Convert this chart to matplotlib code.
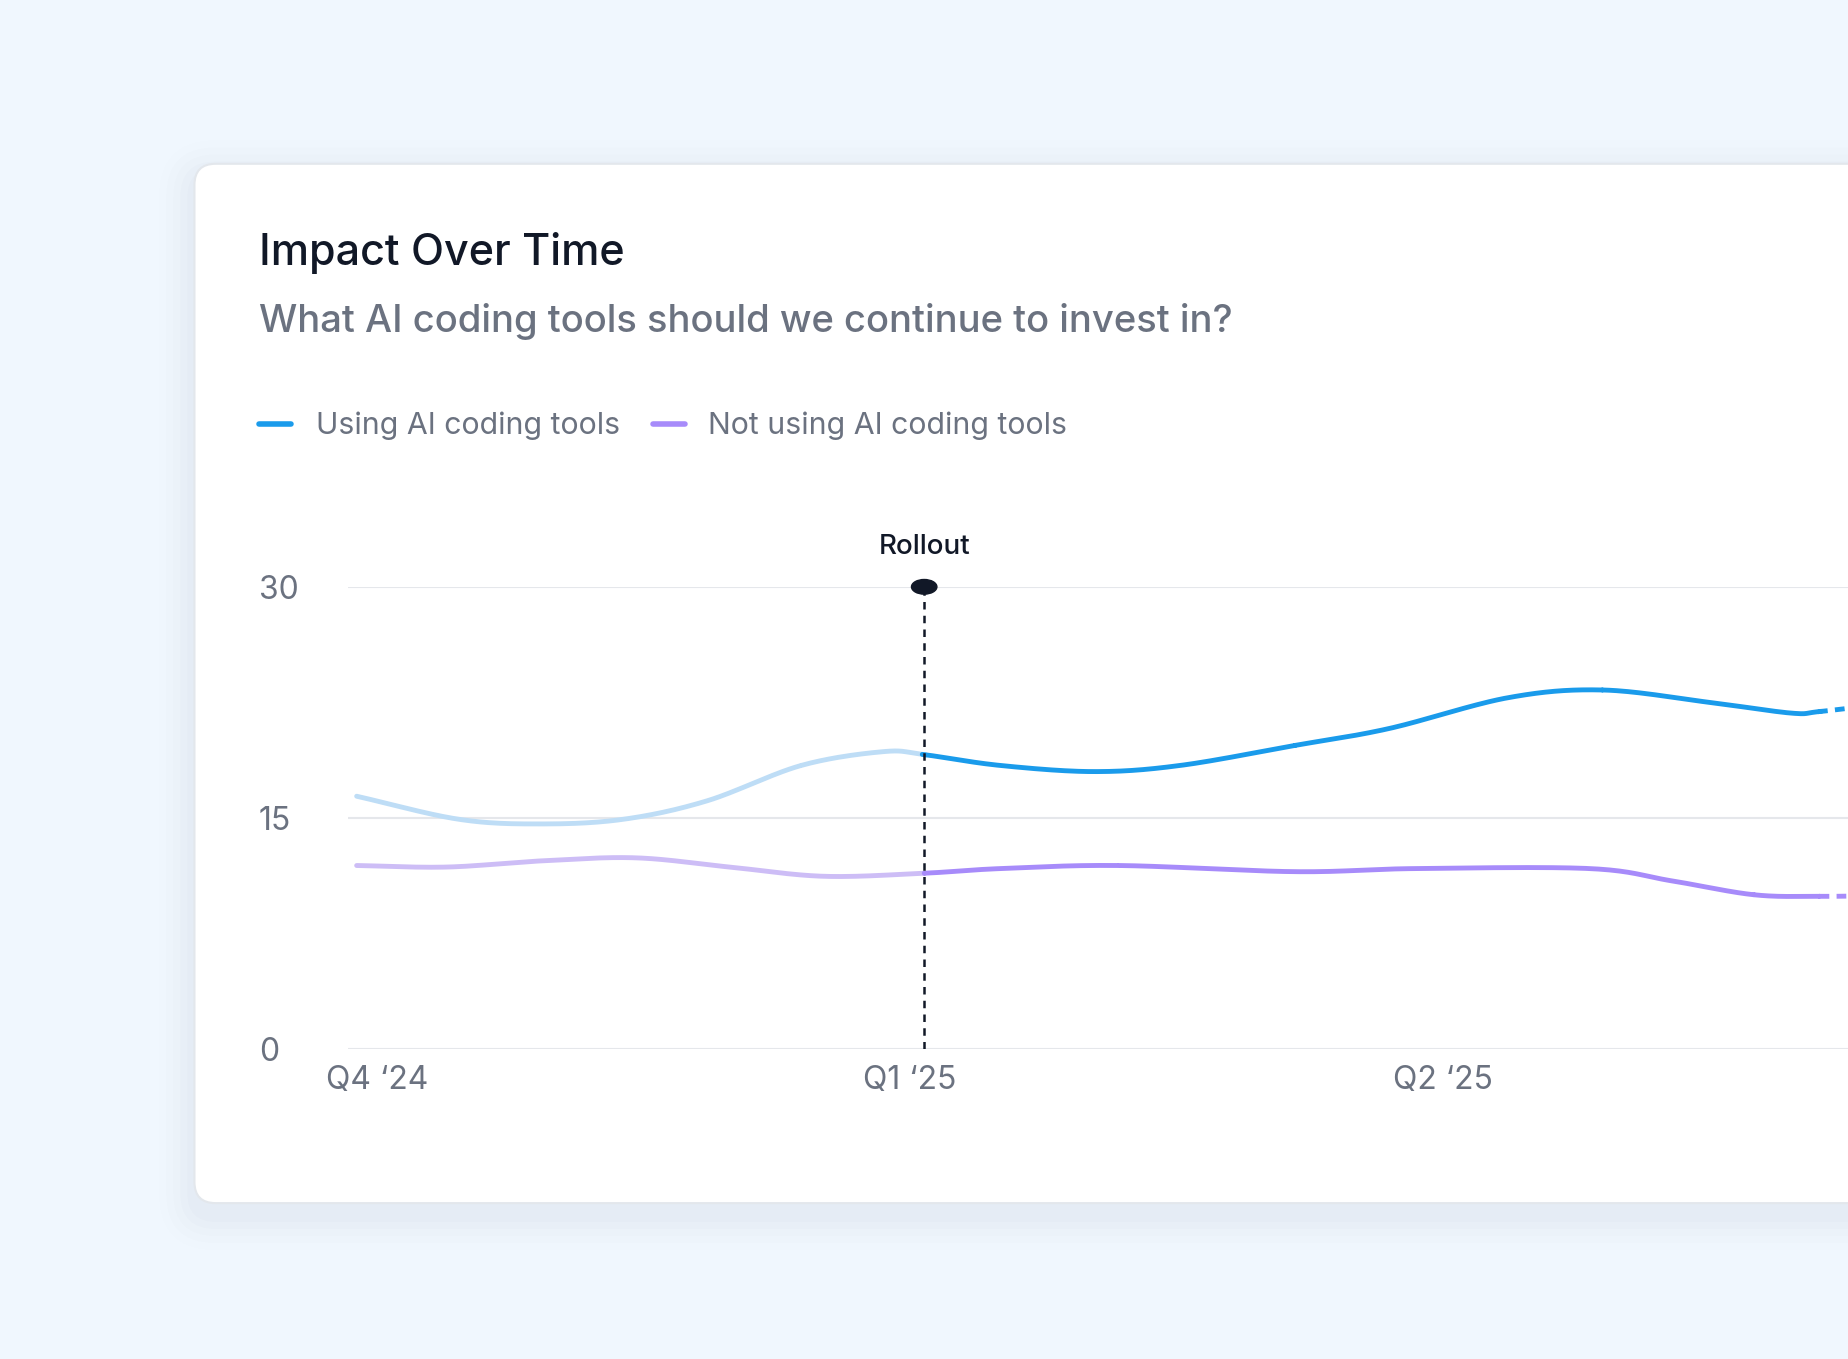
import numpy as np
import matplotlib
matplotlib.use("Agg")
import matplotlib.pyplot as plt
from matplotlib.patches import FancyBboxPatch, Ellipse

# ---- data ----
quarter_labels = ["Q4 \u201824", "Q1 \u201825", "Q2 \u201825"]
quarter_weeks = [0, 13, 26]
rollout_week = 13.35
rollout_value = 30
series_names = ["Using AI coding tools", "Not using AI coding tools"]
using_weeks = [-0.5, 2.0, 4.0, 6.0, 8.05, 10.35, 12.37, 13.35, 15.2, 17.5, 19.6, 22.4, 24.7, 27.6, 29.9, 32.5, 34.5, 35.2, 36.8]
using_vals = [16.4, 14.9, 14.6, 14.9, 16.1, 18.4, 19.3, 19.1, 18.4, 18.0, 18.4, 19.7, 20.8, 22.8, 23.3, 22.5, 21.8, 21.9, 22.4]
notusing_weeks = [-0.5, 1.7, 4.0, 6.3, 8.6, 10.9, 13.35, 15.2, 18.1, 22.4, 25.3, 29.6, 31.6, 33.6, 35.2, 36.8]
notusing_vals = [11.9, 11.8, 12.2, 12.4, 11.8, 11.2, 11.4, 11.7, 11.9, 11.5, 11.7, 11.7, 10.9, 10.0, 9.9, 9.95]
y_ticks = [0, 15, 30]
forecast_start = 35.2

W, H = 1568, 1153.3
fig = plt.figure(figsize=(18.48, 13.59), dpi=100)
fig.patch.set_facecolor("#F0F7FE")
bg = fig.add_axes([0, 0, 1, 1])
bg.set_xlim(0, W); bg.set_ylim(H, 0); bg.axis("off")
bg.set_facecolor("none")
for i, a in enumerate([0.012, 0.01, 0.008, 0.006, 0.004]):
    g = 6 + i * 6
    bg.add_patch(FancyBboxPatch((165 - g, 139 - g + 10), 1600, 882 + 2 * g,
                                boxstyle="round,pad=0,rounding_size=%d" % (18 + g),
                                fc="#1e3a5f", ec="none", alpha=a))
bg.add_patch(FancyBboxPatch((165, 139), 1600, 882, boxstyle="round,pad=0,rounding_size=18",
                            fc="white", ec="#E3E7EC", lw=1.5))
bg.text(220, 215, "Impact Over Time", fontsize=31, color="#111827", va="center",
        family="Inter", fontweight="medium")
bg.text(220, 273, "What AI coding tools should we continue to invest in?", fontsize=27.5,
        color="#6B7280", va="center", family="Inter", fontweight="medium")
cols = ["#1A9BEB", "#A78BFA"]
light = ["#BEDDF6", "#CDBDF6"]
for (x0, xt), name, c in zip([(220, 268), (554, 601)], series_names, cols):
    bg.plot([x0, x0 + 27], [360, 360], color=c, lw=4, solid_capstyle="round")
    bg.text(xt, 361, name, fontsize=21.8, color="#6B7280", va="center", family="Inter")

ax = fig.add_axes([295 / W, 1 - 890 / H, (W - 295) / W, (890 - 498) / H])
ax.set_facecolor("none")
px_per_week = 452 / 13
ax.set_xlim((295 - 320) / px_per_week, (W - 320) / px_per_week)
ax.set_ylim(0, 30)
for s in ax.spines.values():
    s.set_visible(False)
for v in y_ticks:
    ax.axhline(v, color="#E5E7EB", lw=1.5, zorder=0)
ax.set_yticks(y_ticks)
ax.set_yticklabels([str(v) for v in y_ticks], ha="left", fontsize=23, color="#6B7280", family="Inter")
ax.tick_params(axis="y", length=0, pad=64)
ax.set_xticks(quarter_weeks)
ax.set_xticklabels(quarter_labels, fontsize=23, color="#6B7280", family="Inter")
ax.tick_params(axis="x", length=0, pad=12)

def smooth(xs, ys, n=30):
    xs = np.asarray(xs, float); ys = np.asarray(ys, float)
    P = np.column_stack([xs, ys])
    P = np.vstack([2 * P[0] - P[1], P, 2 * P[-1] - P[-2]])
    out = []
    for i in range(1, len(P) - 2):
        p0, p1, p2, p3 = P[i - 1], P[i], P[i + 1], P[i + 2]
        t = np.linspace(0, 1, n)[:, None]
        seg = 0.5 * ((2 * p1) + (-p0 + p2) * t + (2 * p0 - 5 * p1 + 4 * p2 - p3) * t ** 2
                     + (-p0 + 3 * p1 - 3 * p2 + p3) * t ** 3)
        out.append(seg)
    S = np.vstack(out)
    return S[:, 0], S[:, 1]

for xs, ys, c, lc in [(using_weeks, using_vals, cols[0], light[0]),
                      (notusing_weeks, notusing_vals, cols[1], light[1])]:
    sx, sy = smooth(xs, ys)
    m1 = sx <= rollout_week + 0.05
    m2 = (sx >= rollout_week - 0.05) & (sx <= forecast_start + 0.05)
    m3 = sx >= forecast_start - 0.05
    ax.plot(sx[m1], sy[m1], color=lc, lw=3.5, solid_capstyle="round")
    ax.plot(sx[m2], sy[m2], color=c, lw=3.5, solid_capstyle="round")
    ax.plot(sx[m3], sy[m3], color=c, lw=3.5, ls=(0, (2, 1.5)))

ax.plot([rollout_week, rollout_week], [0, rollout_value], color="#111827", lw=1.8, ls=(0, (3, 2.5)), zorder=5)
ax.add_patch(Ellipse((rollout_week, rollout_value), 0.62, 0.95, color="#111827", zorder=6, clip_on=False))
ax.text(rollout_week, rollout_value + 2.6, "Rollout", ha="center", va="center", fontsize=20,
        color="#111827", family="Inter", fontweight="medium", clip_on=False)

fig.savefig("out.png", dpi=100, facecolor=fig.get_facecolor())
